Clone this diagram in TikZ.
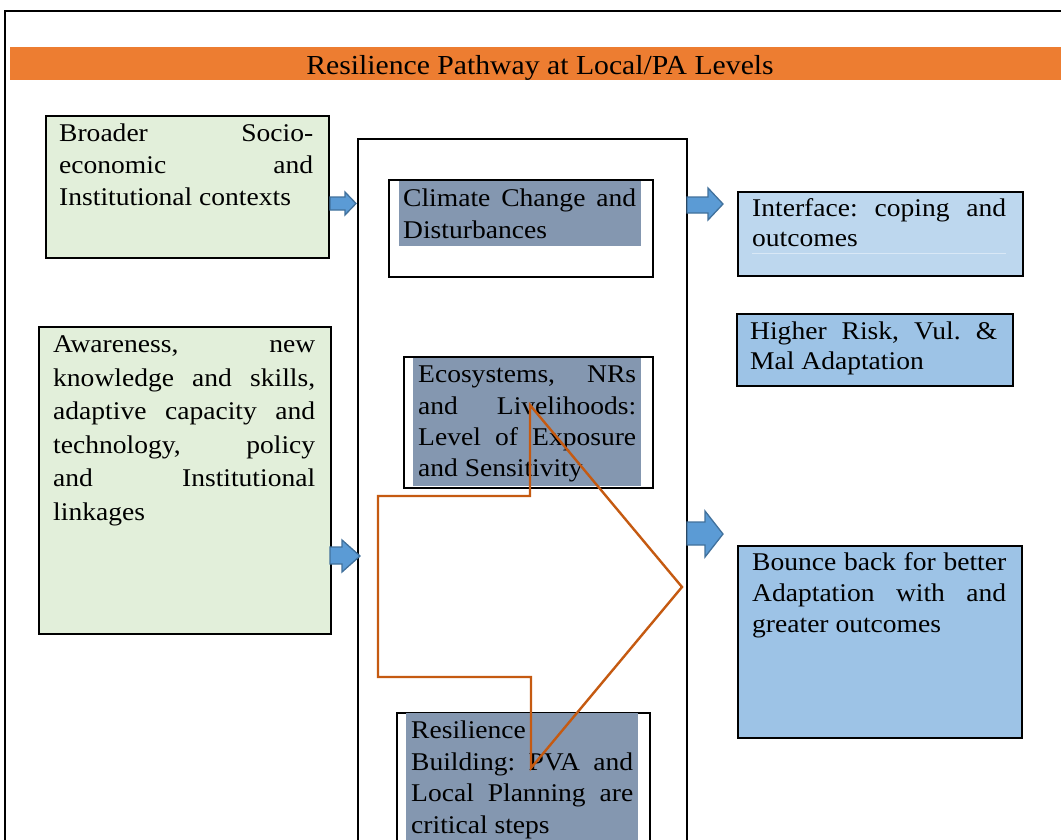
\documentclass[tikz,border=0pt]{standalone}
\usepackage{fontspec}
\setmainfont[FakeStretch=1.08]{Liberation Serif}
\tolerance=10000
\hbadness=10000
\hyphenpenalty=10000
\frenchspacing
\definecolor{orangeBar}{HTML}{ED7D31}
\definecolor{greenFill}{HTML}{E2EFDA}
\definecolor{slate}{HTML}{8497B0}
\definecolor{lightBlue}{HTML}{BDD7EE}
\definecolor{midBlue}{HTML}{9DC3E6}
\definecolor{arrowBlue}{HTML}{5B9BD5}
\definecolor{arrowEdge}{HTML}{41719C}
\definecolor{rust}{HTML}{C55A11}
\definecolor{faintLine}{HTML}{D9E8F6}
\newcommand\bodyfont[1]{\fontsize{25.5}{#1}\selectfont\frenchspacing\tolerance=10000 \hyphenpenalty=10000 }
\begin{document}
\begin{tikzpicture}[x=1pt,y=-1pt,
  boxframe/.style={draw=black, line width=1.6pt, inner sep=0pt, anchor=north west},
  txt/.style={anchor=north west, inner sep=0pt, align=justify},
  blockarrow/.style={fill=arrowBlue, draw=arrowEdge, line width=1.3pt, line join=miter},
  shade/.style={fill=slate}
]
\clip (0,0) rectangle (1061,839);
\fill[white] (0,0) rectangle (1061,839);
% outer frame
\draw[line width=2pt] (5,900) -- (5,10.5) -- (1100,10.5);
% title bar
\fill[orangeBar] (10,47) rectangle (1100,80);
\node[anchor=base, inner sep=0pt, font=\fontsize{27.5}{32}\selectfont] (title) at (540,74) {Resilience Pathway at Local/PA Levels};
% central frame
\draw[line width=1.6pt] (358,900) -- (358,139) -- (687,139) -- (687,900);
% left boxes
\node[boxframe, fill=greenFill, minimum width=283pt, minimum height=142pt] (boxA) at (45,115) {};
\node[boxframe, fill=greenFill, minimum width=292pt, minimum height=307pt] (boxB) at (38,326) {};
% centre boxes
\node[boxframe, fill=white, minimum width=264pt, minimum height=97pt] (boxC) at (388,179) {};
\fill[shade] (399,181) rectangle (641,246);
\node[boxframe, fill=white, minimum width=249pt, minimum height=131pt] (boxD) at (403,356) {};
\fill[shade] (413,357.5) rectangle (641,485.5);
\node[boxframe, fill=white, minimum width=253pt, minimum height=200pt] (boxE) at (396,712) {};
\fill[shade] (406,713) rectangle (638,900);
% right boxes
\node[boxframe, fill=lightBlue, minimum width=285pt, minimum height=84pt] (boxF) at (737,191) {};
\draw[faintLine, line width=0.8pt] (752,253) -- (1006,253);
\node[boxframe, fill=midBlue, minimum width=276pt, minimum height=72pt] (boxG) at (736,313) {};
\node[boxframe, fill=midBlue, minimum width=284pt, minimum height=192pt] (boxH) at (737,545) {};
% texts
\node[txt, text width=254pt, font=\bodyfont{32}] (tA) at (59,119.3) {\strut Broader Socio-\linebreak economic and\linebreak Institutional contexts};
\node[txt, text width=262pt, font=\bodyfont{33.6}] (tB) at (53,328.8) {\strut Awareness, new\linebreak knowledge and skills,\linebreak adaptive capacity and\linebreak technology, policy\linebreak and Institutional\linebreak linkages};
\node[txt, text width=233pt, font=\bodyfont{32}] (tC) at (403,183.6) {\strut Climate Change and\linebreak Disturbances};
\node[txt, text width=218pt, font=\bodyfont{31.3}] (tD) at (418,360.8) {\strut Ecosystems, NRs\linebreak and Livelihoods:\linebreak Level of Exposure\linebreak and Sensitivity};
\node[txt, text width=222pt, font=\bodyfont{31.7}] (tE) at (411,716.1) {\strut Resilience\newline Building: PVA and\linebreak Local Planning are\linebreak critical steps};
\node[txt, text width=254pt, font=\bodyfont{30.7}] (tF) at (752,194.5) {\strut Interface: coping and\linebreak outcomes};
\node[txt, text width=247pt, font=\bodyfont{29.5}] (tG) at (750,318.7) {\strut Higher Risk, Vul. \&\linebreak Mal Adaptation};
\node[txt, text width=254pt, font=\bodyfont{30.6}] (tH) at (752,549.3) {\strut Bounce back for better\linebreak Adaptation with and\linebreak greater outcomes};
% blue block arrows
\draw[blockarrow] (330,197) -- (345,197) -- (345,192) -- (356,203.5) -- (345,215) -- (345,210) -- (330,210) -- cycle;
\draw[blockarrow] (330,547) -- (342,547) -- (342,540) -- (360,556) -- (342,572) -- (342,564) -- (330,564) -- cycle;
\draw[blockarrow] (687,197) -- (708,197) -- (708,188) -- (723,204) -- (708,220) -- (708,213) -- (687,213) -- cycle;
\draw[blockarrow] (687,522) -- (705,522) -- (705,511) -- (723,534) -- (705,557) -- (705,545) -- (687,545) -- cycle;
% orange bent arrow outline
\draw[rust, line width=2.4pt, line join=miter] (530,405) -- (682,587) -- (531,768) -- (531,677) -- (378,677) -- (378,496) -- (530,496) -- cycle;
\end{tikzpicture}
\end{document}
